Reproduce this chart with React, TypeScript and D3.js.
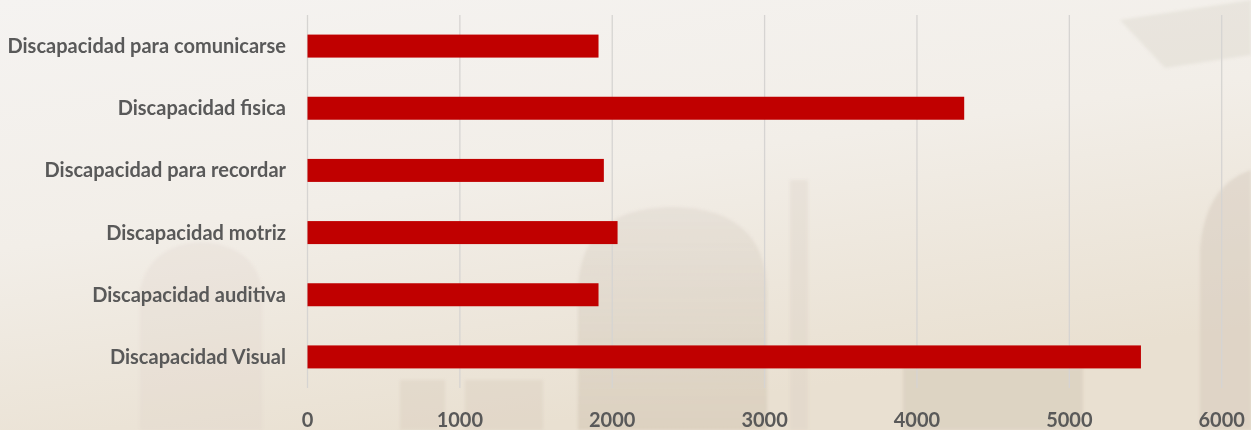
import React from "react";
import * as d3 from "d3";

const categories = [
  "Discapacidad para comunicarse",
  "Discapacidad fisica",
  "Discapacidad para recordar",
  "Discapacidad motriz",
  "Discapacidad auditiva",
  "Discapacidad Visual",
];
const values = [1910, 4310, 1945, 2035, 1910, 5470];
const xTicks = [0, 1000, 2000, 3000, 4000, 5000, 6000];

const W = 1251;
const H = 430;

export default function App() {
  const x = d3.scaleLinear().domain([0, 6000]).range([307.5, 1221.7]);
  const y = d3.scaleBand<string>().domain(categories).range([15, 388]).paddingInner(0.63).paddingOuter(0.315);
  const font = "Lato, 'Open Sans', sans-serif";
  return (
    <svg width={W} height={H} style={{ position: "absolute", left: 0, top: 0 }}>
      <defs>
        <linearGradient id="bg" x1="0" y1="0" x2="0.4" y2="1">
          <stop offset="0" stopColor="#f5f3f1" />
          <stop offset="0.5" stopColor="#f2eee8" />
          <stop offset="1" stopColor="#e9e0d1" />
        </linearGradient>
        <linearGradient id="shade" x1="0" y1="0" x2="0" y2="1">
          <stop offset="0" stopColor="#d2cac0" stopOpacity="0.3" />
          <stop offset="1" stopColor="#cbbda9" stopOpacity="0.42" />
        </linearGradient>
        <filter id="soft">
          <feGaussianBlur stdDeviation="1.5" />
        </filter>
      </defs>
      <rect x={0} y={0} width={W} height={H} fill="url(#bg)" />
      {/* faint background architecture */}
      <g filter="url(#soft)">
        <path d="M578,430 L578,290 Q580,208 672,207 Q765,208 767,290 L767,430 Z" fill="url(#shade)" />
        <rect x={790} y={180} width={18} height={250} fill="#d4cabd" opacity={0.28} />
        <rect x={903} y={368} width={180} height={62} fill="#cbbfae" opacity={0.38} />
        <path d="M1251,170 Q1205,185 1200,250 L1200,430 L1251,430 Z" fill="#cfc4b6" opacity={0.4} />
        <path d="M1120,20 L1251,0 L1251,55 L1165,68 Z" fill="#d8d0c7" opacity={0.35} />
        <path d="M140,430 L140,290 Q150,245 200,242 Q255,245 262,290 L262,430 Z" fill="#d9cfc2" opacity={0.22} />
        <rect x={400} y={380} width={45} height={50} fill="#d3c8b9" opacity={0.32} />
        <rect x={465} y={380} width={78} height={50} fill="#d3c8b9" opacity={0.32} />
      </g>
      {xTicks.map((t) => (
        <line key={t} x1={x(t)} x2={x(t)} y1={15} y2={388} stroke="#d6d4d2" strokeWidth={1.3} />
      ))}
      {categories.map((c, i) => (
        <rect key={c} x={x(0)} y={y(c)!} width={x(values[i]) - x(0)} height={y.bandwidth()} fill="#c00000" />
      ))}
      {categories.map((c) => (
        <text
          key={c}
          x={286}
          y={y(c)! + y.bandwidth() / 2}
          dy="0.35em"
          textAnchor="end"
          fontFamily={font}
          fontWeight="bold"
          fontSize={20}
          fill="#595959"
        >
          {c}
        </text>
      ))}
      {xTicks.map((t) => (
        <text
          key={t}
          x={x(t)}
          y={420}
          dy="0.35em"
          textAnchor="middle"
          fontFamily={font}
          fontWeight="bold"
          fontSize={20}
          fill="#595959"
        >
          {t}
        </text>
      ))}
    </svg>
  );
}
